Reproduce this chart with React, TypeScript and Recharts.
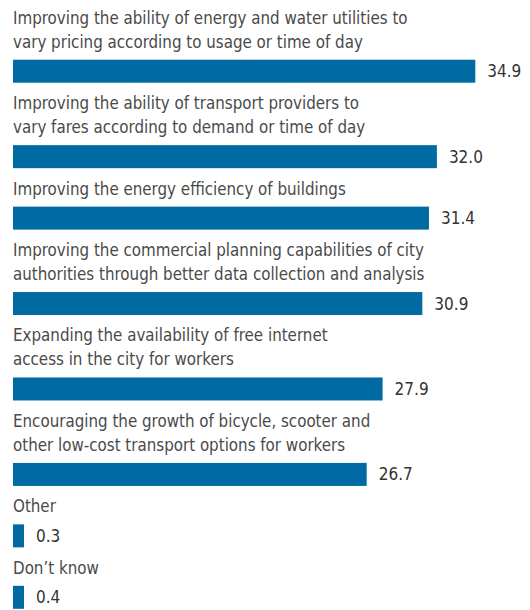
import { BarChart, Bar, XAxis, YAxis } from 'recharts';

// category labels, one entry per line of text
const categories = [
  ['Improving the ability of energy and water utilities to', 'vary pricing according to usage or time of day'],
  ['Improving the ability of transport providers to', 'vary fares according to demand or time of day'],
  ['Improving the energy efficiency of buildings'],
  ['Improving the commercial planning capabilities of city', 'authorities through better data collection and analysis'],
  ['Expanding the availability of free internet', 'access in the city for workers'],
  ['Encouraging the growth of bicycle, scooter and', 'other low-cost transport options for workers'],
  ['Other'],
  ['Don\u2019t know'],
];
const values = [34.9, 32.0, 31.4, 30.9, 27.9, 26.7, 0.3, 0.4];

const BLUE = '#006ba2';
const FONT = '"DejaVu Sans Condensed", "Liberation Sans Narrow", sans-serif';
const LINE = 24; // px per text line
const GAP = 1.56; // space between rows, in text lines
const MIN_W = 11; // tiny values still get a visible stub

// row position on the y axis grows with the number of label lines
let pos = 0;
const data = categories.map((lines, i) => {
  pos += lines.length + GAP;
  return { label: lines, value: values[i], pos };
});

const Row = (props: any) => {
  const { x, y, width, height, payload } = props;
  const w = Math.max(width, MIN_W);
  const lines: string[] = payload.label;
  const lastBase = y - 12;
  return (
    <g>
      <text x={x} fontSize={16.8} fill="#4a4a4a" fontFamily={FONT}>
        {lines.map((l, i) => (
          <tspan key={i} x={x} y={lastBase - (lines.length - 1 - i) * LINE}>{l}</tspan>
        ))}
      </text>
      <rect x={x} y={y} width={w} height={height} fill={BLUE} />
      <text x={x + w + 12} y={y + height / 2} dominantBaseline="central" fontSize={17} fill="#333" fontFamily={FONT}>
        {payload.value.toFixed(1)}
      </text>
    </g>
  );
};

export default function App() {
  return (
    <div style={{ width: 522, height: 602 }}>
      <BarChart
        width={522}
        height={602}
        data={data}
        layout="vertical"
        margin={{ top: 2, right: 7, bottom: 0, left: 5 }}
      >
        <XAxis type="number" domain={[0, 38.5]} hide />
        <YAxis type="number" dataKey="pos" domain={[1, 26]} hide allowDataOverflow />
        <Bar dataKey="value" barSize={23} shape={Row} isAnimationActive={false} />
      </BarChart>
    </div>
  );
}
